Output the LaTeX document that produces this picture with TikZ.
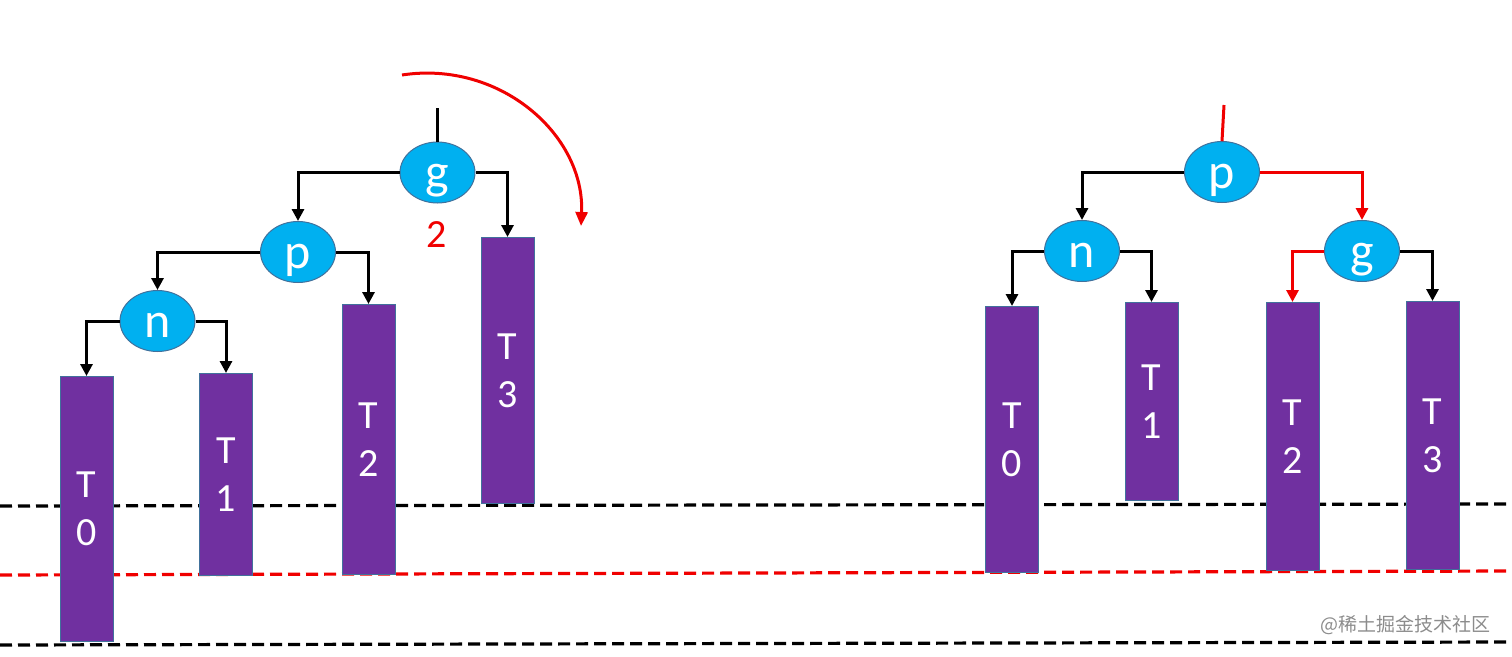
\documentclass[tikz,border=0pt]{standalone}
\usepackage{fontspec}
\setmainfont{Carlito}
\newfontfamily\cjk{Noto Sans CJK SC}
\usetikzlibrary{shapes.geometric,arrows.meta}
\definecolor{nodeblue}{HTML}{00B0F0}
\definecolor{edgeblue}{HTML}{41719C}
\definecolor{tpurple}{HTML}{7030A0}
\definecolor{lred}{HTML}{F00000}
\tikzset{
  treenode/.style={ellipse, fill=nodeblue, draw=edgeblue, line width=1pt,
    minimum width=75pt, minimum height=61pt, inner sep=0pt, text=white,
    text height=32pt, text depth=0pt, font=\fontsize{50}{50}\selectfont},
  subtree/.style={rectangle, fill=tpurple, draw=edgeblue, line width=1pt,
    minimum width=53pt, inner sep=0pt, text=white, align=center, anchor=north,
    font=\fontsize{40}{48}\selectfont},
  link/.style={line width=3pt, -{Triangle[width=12pt,length=12pt]}},
  redlink/.style={link, draw=lred},
  levelline/.style={line width=3.2pt, dash pattern=on 12pt off 6pt},
}
\begin{document}
\begin{tikzpicture}[x=1pt,y=-1pt]
\useasboundingbox (0,0) rectangle (1512,656);
% level lines
\draw[levelline, black] (0,506) -- (1512,504);
\draw[levelline, lred] (0,575) -- (1512,571);
\draw[levelline, black] (0,645) -- (1512,642);

% ---------- left tree ----------
\node[treenode] (lg) at (437.5,172.5) {g};
\node[treenode] (lp) at (298,252) {p};
\node[treenode] (ln) at (157.5,321) {n};
\node[subtree, minimum height=265pt] (lT0) at (86.5,376) {T\\0};
\node[subtree, minimum height=202pt] (lT1) at (226,373) {T\\1};
\node[subtree, minimum height=270pt] (lT2) at (368.5,304) {T\\2};
\node[subtree, minimum height=266pt] (lT3) at (507.5,237) {T\\3};
\coordinate (lroot) at (437.5,108);
\draw[line width=3pt] (lroot) -- (lg.north);
\draw[link] (lg.west) -| (lp.north);
\draw[link] (lg.east) -| (lT3.north);
\draw[link] (lp.west) -| (ln.north);
\draw[link] (lp.east) -| (lT2.north);
\draw[link] (ln.west) -| (lT0.north);
\draw[link] (ln.east) -| (lT1.north);
\node[text=lred, font=\fontsize{40}{40}\selectfont] (two) at (437,235) {2};
\coordinate (arcS) at (402,75);
\coordinate (arcE) at (581,226);
\draw[lred, line width=3pt, -{Triangle[width=12pt,length=14pt]}]
  (arcS) .. controls (500,60) and (585,135) .. (arcE);

% ---------- right tree ----------
\node[treenode] (rp) at (1222,172) {p};
\node[treenode] (rn) at (1082,251) {n};
\node[treenode] (rg) at (1362,251) {g};
\node[subtree, minimum height=266pt] (rT0) at (1012,306) {T\\0};
\node[subtree, minimum height=198pt] (rT1) at (1151.5,302) {T\\1};
\node[subtree, minimum height=268pt] (rT2) at (1292.5,302) {T\\2};
\node[subtree, minimum height=268pt] (rT3) at (1432.5,301) {T\\3};
\coordinate (rroot) at (1224,105);
\draw[lred, line width=3pt] (rroot) -- (rp.north);
\draw[link] (rp.west) -| (rn.north);
\draw[redlink] (rp.east) -| (rg.north);
\draw[link] (rn.west) -| (rT0.north);
\draw[link] (rn.east) -| (rT1.north);
\draw[redlink] (rg.west) -| (rT2.north);
\draw[link] (rg.east) -| (rT3.north);

% watermark
\node[text=black!45, font=\cjk\fontsize{19}{19}\selectfont, anchor=east] (wm) at (1494,625) {@稀土掘金技术社区};
\end{tikzpicture}
\end{document}
